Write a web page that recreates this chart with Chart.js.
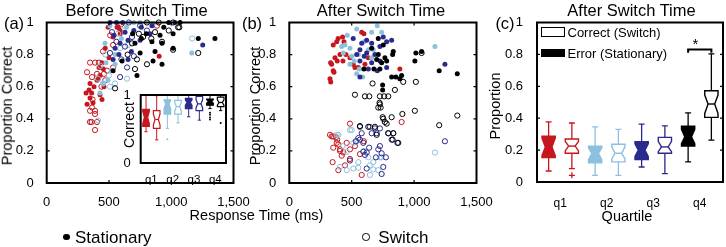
<!DOCTYPE html>
<html><head><meta charset="utf-8">
<script src="https://cdn.jsdelivr.net/npm/chart.js@4.4.0/dist/chart.umd.min.js"></script>
<style>
html,body{margin:0;padding:0;background:#fff;}
body{width:726px;height:247px;position:relative;overflow:hidden;font-family:"Liberation Sans",Arial,sans-serif;color:#000;}
canvas{position:absolute;}
.t{position:absolute;line-height:1;white-space:nowrap;transform:translate(-50%,-50%);}
.l{position:absolute;line-height:1;white-space:nowrap;transform:translate(0,-50%);}
.r{position:absolute;line-height:1;white-space:nowrap;transform:translate(-50%,-50%) rotate(-90deg);}
</style></head><body>
<canvas id="ca" width="260" height="210" style="left:0;top:0"></canvas>
<canvas id="cb" width="260" height="210" style="left:240px;top:0"></canvas>
<canvas id="cc" width="270" height="210" style="left:470px;top:0"></canvas>
<canvas id="ci" width="130" height="105" style="left:110px;top:80px"></canvas>

<div class="t" style="left:136.5px;top:9.5px;font-size:16.5px">Before Switch Time</div>
<div class="t" style="left:381px;top:9.5px;font-size:16.5px">After Switch Time</div>
<div class="t" style="left:631.5px;top:9.5px;font-size:16.5px">After Switch Time</div>
<div class="t" style="left:14px;top:22.5px;font-size:16.5px">(a)</div>
<div class="t" style="left:252px;top:22.5px;font-size:16.5px">(b)</div>
<div class="t" style="left:505px;top:22.5px;font-size:16.5px">(c)</div>
<div class="r" style="left:7px;top:106px;font-size:14.5px">Proportion Correct</div>
<div class="r" style="left:255px;top:106px;font-size:14.5px">Proportion Correct</div>
<div class="r" style="left:495px;top:106px;font-size:14.5px">Proportion</div>
<div class="r" style="left:128.5px;top:124.5px;font-size:14px">Correct</div>
<div class="t" style="left:256.5px;top:215px;font-size:14.5px">Response Time (ms)</div>
<div class="t" style="left:627px;top:216px;font-size:14.5px">Quartile</div>
<div style="position:absolute;left:63.3px;top:233.5px;width:6.5px;height:6.5px;border-radius:50%;background:#000"></div>
<div class="l" style="left:75px;top:237px;font-size:17px">Stationary</div>
<div style="position:absolute;left:362.3px;top:233.3px;width:5.5px;height:5.5px;border-radius:50%;border:1.2px solid #000"></div>
<div class="l" style="left:378.3px;top:237px;font-size:17px">Switch</div>
<div style="position:absolute;left:541px;top:27.3px;width:22px;height:7.5px;border:1px solid #000;background:#fff"></div>
<div class="l" style="left:567.5px;top:31.7px;font-size:13px">Correct (Switch)</div>
<div style="position:absolute;left:541px;top:49.3px;width:24px;height:8px;background:#000"></div>
<div class="l" style="left:567.5px;top:53.3px;font-size:13px">Error (Stationary)</div>
<div class="t" style="left:695.5px;top:43px;font-size:15px">*</div>

<script>
// ---------------- DATA ----------------
// Panel (a): Before switch time  [response time (ms), proportion correct]
const aRedStat = [[324,0.49],[340,0.58],[348,0.62],[380,0.60],[404,0.64],[428,0.67],[444,0.52],[348,0.53],[493,0.97],[533,0.91],[565,0.97],[590,0.93],[903,0.79],[444,0.75],[420,0.72],[316,0.56],[361,0.56],[428,0.55],[372,0.50],[460,0.60],[500,0.78],[470,0.84],[575,0.97],[589,0.95],[415,0.65],[455,0.71]];
const aRedSw = [[348,0.75],[388,0.75],[420,0.75],[324,0.69],[364,0.66],[404,0.68],[460,0.68],[484,0.70],[533,0.72],[364,0.47],[388,0.45],[348,0.38],[404,0.38],[388,0.33],[533,0.86],[452,0.82],[885,0.98],[368,0.52],[348,0.45],[388,0.43],[361,0.38],[470,0.64],[440,0.60],[510,0.92],[600,0.99]];
const aLbStat = [[508,0.98],[476,0.75],[492,0.64],[428,0.56],[468,0.87],[549,0.80],[549,0.74],[750,1.0],[1165,0.81],[855,0.99],[693,0.94],[640,0.97],[520,0.70],[600,0.90],[455,0.62],[700,1.0]];
const aLbSw = [[412,0.65],[500,0.67],[452,0.62],[645,0.65],[508,0.60],[573,0.93],[653,0.86],[549,0.62],[412,0.39],[1168,0.90],[620,0.98],[470,0.80],[590,0.84],[430,0.73]];
const aNvStat = [[508,1.0],[560,1.0],[629,0.94],[589,0.87],[549,0.84],[653,0.77],[533,0.77],[653,0.89],[750,0.89],[845,0.98],[1030,1.0],[830,0.93],[1253,0.86],[610,1.0],[700,0.95],[580,0.80],[680,0.82],[760,0.97],[540,0.92]];
const aNvSw = [[629,0.85],[685,0.91],[508,0.81],[645,0.72],[589,0.66],[524,0.94],[805,0.95],[750,0.98],[700,0.79],[600,0.77],[660,1.0],[560,0.88]];
const aBkStat = [[605,0.76],[533,0.70],[725,0.67],[750,0.81],[709,0.87],[845,0.88],[910,0.92],[926,0.87],[854,0.76],[926,0.74],[1015,0.93],[1071,1.0],[1217,0.90],[1351,0.90],[1015,0.84],[800,0.93],[760,0.90],[980,1.0],[870,0.82],[690,0.93],[940,0.97]];
const aBkSw = [[685,0.87],[774,0.91],[870,0.94],[926,0.88],[805,0.74],[725,0.77],[1015,0.83],[805,1.0],[1015,1.0],[1065,0.97],[1217,0.81],[1055,0.97],[549,0.59],[709,0.71],[900,1.0],[740,0.93],[840,0.90],[980,0.95],[650,0.80]];

// Panel (b): After switch time
const bRedStat = [[352,0.86],[391,0.90],[427,0.91],[438,0.88],[380,0.88],[366,0.78],[339,0.74],[326,0.65],[332,0.63],[352,0.70],[384,0.76],[430,0.76],[454,0.80],[486,0.78],[512,0.74],[553,0.72],[580,0.94],[606,0.74],[633,0.78],[886,0.71],[358,0.69],[406,0.80],[598,0.93],[331,0.75],[526,0.72]];
const bRedSw = [[326,0.30],[352,0.29],[374,0.285],[406,0.21],[433,0.19],[420,0.17],[352,0.22],[393,0.24],[460,0.25],[347,0.13],[393,0.08],[486,0.37],[900,0.38],[580,0.05],[486,0.15],[566,0.18],[446,0.11],[380,0.25],[339,0.29],[406,0.20],[526,0.23],[598,0.26],[486,0.21],[384,0.27]];
const bLbStat = [[540,0.96],[705,0.98],[660,0.94],[740,0.94],[465,0.92],[446,0.86],[420,0.85],[486,0.84],[500,0.79],[486,0.74],[433,0.81],[553,0.80],[633,0.83],[673,0.83],[560,0.71],[588,0.66],[1167,0.85],[660,0.78],[540,0.68],[600,0.88],[520,0.76]];
const bLbSw = [[486,0.33],[380,0.30],[427,0.23],[460,0.195],[513,0.25],[540,0.26],[553,0.13],[646,0.11],[673,0.13],[713,0.08],[513,0.09],[460,0.08],[646,0.05],[726,0.16],[406,0.10],[1167,0.19],[393,0.30],[500,0.33],[633,0.16],[553,0.095],[740,0.16],[673,0.085],[600,0.20]];
const bNvStat = [[512,0.90],[580,0.87],[620,0.89],[753,0.91],[820,0.89],[780,0.88],[726,0.85],[660,0.87],[620,0.81],[686,0.80],[660,0.75],[566,0.76],[633,0.71],[566,0.66],[705,0.70],[780,0.72],[1247,0.74],[566,0.83],[726,0.76],[540,0.80],[600,0.79]];
const bNvSw = [[566,0.35],[646,0.35],[686,0.34],[726,0.34],[700,0.31],[660,0.31],[580,0.31],[553,0.28],[566,0.27],[533,0.26],[593,0.25],[793,0.31],[833,0.31],[820,0.27],[866,0.25],[726,0.23],[713,0.21],[740,0.185],[593,0.195],[620,0.19],[606,0.175],[694,0.16],[486,0.14],[620,0.09],[740,0.056],[774,0.16],[1247,0.26],[753,0.10],[640,0.22]];
const bBkStat = [[753,0.86],[833,0.82],[828,0.80],[713,0.80],[700,0.77],[726,0.71],[678,0.71],[740,0.75],[780,0.76],[766,0.78],[854,0.66],[820,0.66],[886,0.65],[900,0.67],[748,0.61],[748,0.58],[1014,0.81],[1060,0.82],[1006,0.76],[1201,0.70],[1346,0.68],[598,0.71],[713,0.90],[660,0.84]];
const bBkSw = [[1060,0.81],[1014,0.63],[913,0.63],[846,0.58],[667,0.62],[526,0.55],[606,0.54],[641,0.54],[726,0.54],[760,0.54],[793,0.54],[723,0.50],[732,0.47],[713,0.47],[748,0.41],[753,0.40],[820,0.41],[1006,0.45],[906,0.43],[1346,0.42],[1201,0.36],[566,0.355],[633,0.35],[686,0.35],[700,0.30],[766,0.38],[793,0.31],[833,0.31],[828,0.27],[873,0.25],[780,0.37],[726,0.49]];

// Inset of (a): boxes ordered q1 stationary, q1 switch, q2 stationary, q2 switch, ...
const quartileLabels = ['q1','q2','q3','q4'];
const insetLo    = [0.46,0.34,0.51,0.59,0.68,0.63,0.80,0.77];
const insetQ1    = [0.54,0.51,0.72,0.72,0.80,0.77,0.85,0.83];
const insetMed   = [0.67,0.64,0.87,0.83,0.89,0.87,0.91,0.89];
const insetQ3    = [0.79,0.77,0.93,0.92,0.95,0.98,0.94,0.97];
const insetHi    = [1.00,0.99,1.00,1.00,1.00,1.00,1.00,1.00];
const insetNLo   = [0.58,0.56,0.80,0.76,0.85,0.81,0.88,0.85];
const insetNHi   = [0.76,0.72,0.92,0.89,0.93,0.93,0.93,0.93];
const insetOutBox = [2,6,6,6,6,7];
const insetOutVal = [0.35,0.74,0.71,0.67,0.64,0.59];

// Panel (c): proportion after switch time (error-stationary vs correct-switch)
const cLo   = [0.069,0.084,0.042,0.042,0.094,0.053,0.126,0.262];
const cQ1   = [0.153,0.180,0.120,0.126,0.140,0.180,0.225,0.405];
const cMed  = [0.220,0.225,0.180,0.180,0.200,0.220,0.283,0.489];
const cQ3   = [0.287,0.270,0.225,0.237,0.252,0.280,0.350,0.572];
const cHi   = [0.377,0.370,0.346,0.330,0.363,0.352,0.434,0.803];
const cNLo  = [0.165,0.195,0.140,0.145,0.160,0.190,0.240,0.430];
const cNHi  = [0.275,0.255,0.215,0.220,0.240,0.255,0.330,0.545];
const cOutBox = [1];
const cOutVal = [0.042];
const sigPair = [6,7];
const sigLevel = 0.83;

// ---------------- STYLE ----------------
const RED='#c8161e', LB='#8cc0dc', NV='#2a2a8c', BK='#000000';
const qColors=[RED,LB,NV,BK];
const FONT='"Liberation Sans", Arial, sans-serif';
Chart.defaults.font.family=FONT;
Chart.defaults.color='#000';
Chart.defaults.animation=false;
const fmt=v=>String(Math.round(v*10)/10);

const framePlugin={
  id:'frame',
  afterDraw(chart,args,o){
    const ctx=chart.ctx,a=chart.chartArea,xs=chart.scales.x,ys=chart.scales.y;
    ctx.save();
    const tl=o.tl||3;
    ctx.strokeStyle='#000';ctx.lineWidth=1.2;ctx.beginPath();
    if(o.yt) ys.ticks.forEach(t=>{if(t.value<=ys.min+1e-9||t.value>=ys.max-1e-9)return;const p=ys.getPixelForValue(t.value);ctx.moveTo(a.left,p);ctx.lineTo(a.left+tl,p);ctx.moveTo(a.right,p);ctx.lineTo(a.right-tl,p);});
    if(o.xt) xs.ticks.forEach(t=>{if(t.value<=xs.min+1e-9||t.value>=xs.max-1e-9)return;const p=xs.getPixelForValue(t.value);ctx.moveTo(p,a.bottom);ctx.lineTo(p,a.bottom-tl);ctx.moveTo(p,a.top);ctx.lineTo(p,a.top+tl);});
    ctx.stroke();
    ctx.lineWidth=o.lw||2;
    ctx.strokeRect(a.left,a.top,a.right-a.left,a.bottom-a.top);
    ctx.restore();
  }
};
const bgPlugin={
  id:'bg',
  beforeDatasetsDraw(chart,args,o){
    if(!o||!o.on)return;
    const ctx=chart.ctx,a=chart.chartArea;
    ctx.save();ctx.fillStyle='#fff';ctx.fillRect(a.left,a.top,a.right-a.left,a.bottom-a.top);ctx.restore();
  }
};
const boxPlugin={
  id:'boxes',
  beforeDatasetsDraw(chart,args,o){
    if(!o||!o.q1)return;
    const ctx=chart.ctx,xs=chart.scales.x,ys=chart.scales.y;
    const Y=v=>ys.getPixelForValue(v);
    ctx.save();
    for(let i=0;i<o.q1.length;i++){
      const col=qColors[Math.floor(i/2)],filled=i%2===0;
      const cx=xs.getPixelForValue(i);
      const hw=xs.getPixelForValue(i+o.boxW/2)-cx;
      const cw=hw*o.capRatio, ni=hw*0.5;
      ctx.strokeStyle=col;ctx.lineWidth=o.wl;
      ctx.beginPath();
      ctx.moveTo(cx,Y(o.q3[i]));ctx.lineTo(cx,Y(o.hi[i]));
      ctx.moveTo(cx,Y(o.q1[i]));ctx.lineTo(cx,Y(o.lo[i]));
      ctx.moveTo(cx-cw,Y(o.hi[i]));ctx.lineTo(cx+cw,Y(o.hi[i]));
      ctx.moveTo(cx-cw,Y(o.lo[i]));ctx.lineTo(cx+cw,Y(o.lo[i]));
      ctx.stroke();
      const L=cx-hw,R=cx+hw;
      ctx.beginPath();
      ctx.moveTo(L,Y(o.q3[i]));ctx.lineTo(R,Y(o.q3[i]));ctx.lineTo(R,Y(o.nhi[i]));
      ctx.lineTo(cx+ni,Y(o.med[i]));ctx.lineTo(R,Y(o.nlo[i]));ctx.lineTo(R,Y(o.q1[i]));
      ctx.lineTo(L,Y(o.q1[i]));ctx.lineTo(L,Y(o.nlo[i]));ctx.lineTo(cx-ni,Y(o.med[i]));
      ctx.lineTo(L,Y(o.nhi[i]));ctx.closePath();
      ctx.fillStyle=filled?col:'#fff';ctx.fill();
      ctx.lineWidth=o.bl;ctx.stroke();
      if(!filled){ctx.beginPath();ctx.moveTo(cx-ni,Y(o.med[i]));ctx.lineTo(cx+ni,Y(o.med[i]));ctx.stroke();}
    }
    if(o.sig){
      const x1=xs.getPixelForValue(o.sig[0]),x2=xs.getPixelForValue(o.sig[1]),yy=Y(o.sigY),yd=Y(o.sigY-0.02);
      ctx.strokeStyle='#000';ctx.lineWidth=2;ctx.beginPath();
      ctx.moveTo(x1,yd);ctx.lineTo(x1,yy);ctx.lineTo(x2,yy);ctx.lineTo(x2,yd);ctx.stroke();
    }
    ctx.restore();
  }
};

function pts(arr){return arr.map(p=>({x:p[0],y:p[1]}));}
function sds(arr,color,filled){
  return {data:pts(arr),showLine:false,clip:false,
    pointRadius:filled?2.5:2.6,pointHoverRadius:0,
    pointBackgroundColor:filled?color:'rgba(0,0,0,0)',
    pointBorderColor:color,pointBorderWidth:filled?0:1};
}
function scatterOpts(w,h,a,frame){
  return {
    responsive:false,devicePixelRatio:1,animation:false,events:[],
    layout:{padding:{left:0,right:w-a.right,top:a.top,bottom:0}},
    plugins:{legend:{display:false},tooltip:{enabled:false},frame:frame},
    scales:{
      x:{type:'linear',min:0,max:1500,afterFit(s){s.height=h-a.bottom;},
         ticks:{stepSize:500,autoSkip:false,maxRotation:0,padding:4,font:{size:13},color:'#000'},
         grid:{display:false},border:{display:false}},
      y:{type:'linear',min:0,max:1,afterFit(s){s.width=a.left;},
         ticks:{stepSize:0.2,padding:5,font:{size:13},color:'#000',callback:fmt},
         grid:{display:false},border:{display:false}}
    }
  };
}

new Chart(document.getElementById('ca'),{
  type:'scatter',
  data:{datasets:[
    sds(aBkStat,BK,true),sds(aBkSw,BK,false),
    sds(aNvStat,NV,true),sds(aNvSw,NV,false),
    sds(aLbStat,LB,true),sds(aLbSw,LB,false),
    sds(aRedStat,RED,true),sds(aRedSw,RED,false)]},
  options:scatterOpts(260,210,{left:46.7,right:233.5,top:22.5,bottom:183},{yt:true,xt:true,tl:3,lw:2}),
  plugins:[framePlugin]
});
new Chart(document.getElementById('cb'),{
  type:'scatter',
  data:{datasets:[
    sds(bBkStat,BK,true),sds(bNvStat,NV,true),sds(bLbStat,LB,true),sds(bRedStat,RED,true),
    sds(bBkSw,BK,false),sds(bNvSw,NV,false),sds(bLbSw,LB,false),sds(bRedSw,RED,false)]},
  options:scatterOpts(260,210,{left:49.3,right:236.5,top:22.5,bottom:183},{yt:true,xt:true,tl:3,lw:2}),
  plugins:[framePlugin]
});

const qPos=[0.5,2.5,4.5,6.5];
function boxOpts(w,h,a,box,frame,tickFont,ypad,xpad,ystep){
  return {
    responsive:false,devicePixelRatio:1,animation:false,events:[],
    layout:{padding:{left:0,right:w-a.right,top:a.top,bottom:0}},
    plugins:{legend:{display:false},tooltip:{enabled:false},frame:frame,boxes:box,bg:{on:true}},
    scales:{
      x:{type:'linear',min:-0.5,max:7.5,afterFit(s){s.height=h-a.bottom;},
         afterBuildTicks(s){s.ticks=qPos.map(v=>({value:v}));},
         ticks:{autoSkip:false,maxRotation:0,padding:xpad,font:{size:tickFont},color:'#000',callback:v=>quartileLabels[qPos.indexOf(v)]},
         grid:{display:false},border:{display:false}},
      y:{type:'linear',min:0,max:1,afterFit(s){s.width=a.left;},
         ticks:{stepSize:ystep,padding:ypad,font:{size:13},color:'#000',callback:fmt},
         grid:{display:false},border:{display:false}}
    }
  };
}
new Chart(document.getElementById('cc'),{
  type:'scatter',
  data:{datasets:[{data:cOutBox.map((b,k)=>({x:b,y:cOutVal[k]})),showLine:false,clip:false,
    pointStyle:'cross',pointRadius:3,pointBorderWidth:1.3,
    pointBorderColor:cOutBox.map(b=>qColors[Math.floor(b/2)])}]},
  options:boxOpts(270,210,{left:67,right:253,top:22.5,bottom:182},
    {q1:cQ1,q3:cQ3,med:cMed,lo:cLo,hi:cHi,nlo:cNLo,nhi:cNHi,boxW:0.57,capRatio:0.45,wl:1.3,bl:1.4,sig:sigPair,sigY:sigLevel},
    {yt:true,xt:false,tl:3,lw:2},12,6,6,0.2),
  plugins:[bgPlugin,boxPlugin,framePlugin]
});
new Chart(document.getElementById('ci'),{
  type:'scatter',
  data:{datasets:[{data:insetOutBox.map((b,k)=>({x:b,y:insetOutVal[k]})),showLine:false,clip:false,
    pointRadius:1,pointBorderWidth:0,
    pointBackgroundColor:insetOutBox.map(b=>qColors[Math.floor(b/2)])}]},
  options:boxOpts(130,105,{left:30.7,right:116,top:15,bottom:83},
    {q1:insetQ1,q3:insetQ3,med:insetMed,lo:insetLo,hi:insetHi,nlo:insetNLo,nhi:insetNHi,boxW:0.62,capRatio:0.5,wl:1,bl:1.2},
    {yt:false,xt:false,tl:2,lw:2},11.5,2,2,1),
  plugins:[bgPlugin,boxPlugin,framePlugin]
});
</script>
</body></html>
